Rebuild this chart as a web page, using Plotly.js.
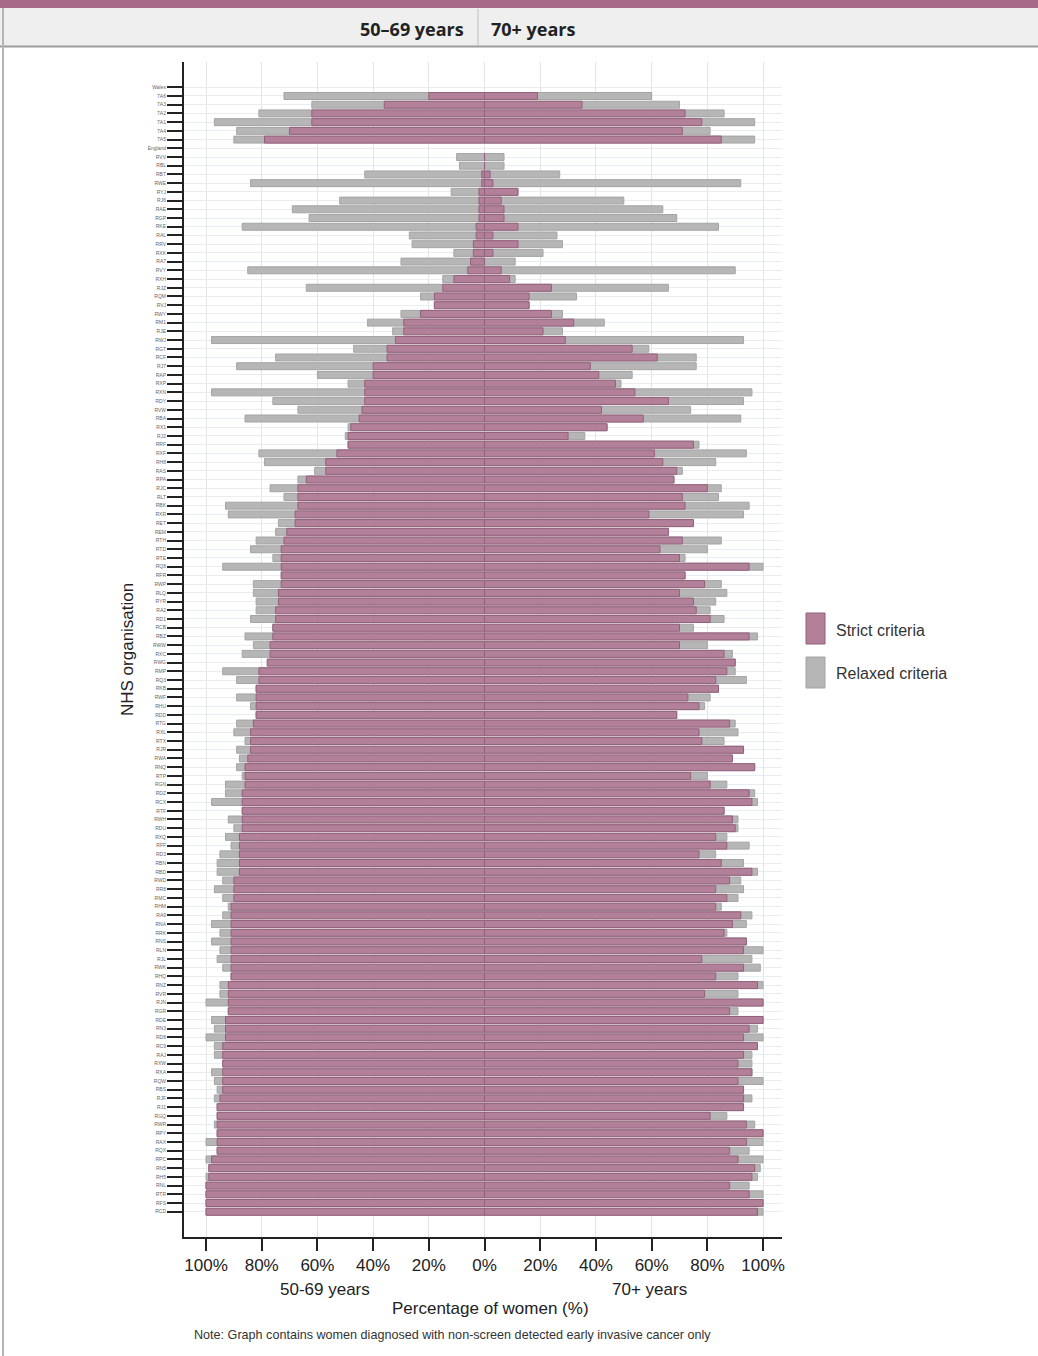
<!DOCTYPE html>
<html>
<head>
<meta charset="utf-8">
<script src="https://cdn.plot.ly/plotly-3.0.1.min.js"></script>
<style>
  html, body { margin: 0; padding: 0; background: #ffffff; }
  #chart { width: 1038px; height: 1356px; }
</style>
</head>
<body>
<div id="chart"></div>
<script>
// ---- Data (percent of women) ----
const organisations = ["Wales","7A6","7A3","7A2","7A1","7A4","7A5","England",
"RVV","RBL","RBT","RWE","RYJ","RJ6","RAE","RGP","RKE","RAL","RRV","RXK","RA7","RVY",
"RXH","RJZ","RQM","RVJ","RWY","RM1","RJE","RWJ","RGT","RCF","RJ7","RAP","RXP","RXN","RDY","RVW","RBA","RX1","RJ2","RRF","RXF","RH8",
"RAS","RPA","RJC","RLT","RBK","RXR","RET","REM","RTH","RTD","RTE","RQ8","RFR","RWP","RLQ","RYR","RA2","RD1","RCB","RBZ","RWW","RXC",
"RWG","RMP","RQ3","RKB","RWF","RHU","RDD","RTG","RXL","RTX","RJR","RWA","RNQ","RTP","RGN","RDZ","RCX","RTF","RWH","RDU","RXQ",
"RFF","RD3","RBN","RBD","RWD","RR8","RMC","RHM","RA9","RNA","RRK","RNS","RLN","RJL","RWK","RHQ","RNZ","RVR","RJN","RGR","RDE","RN3",
"RD8","RC9","RAJ","RXW","RXA","RQW","RBS","RJF","RJ1","RGQ","RWR","RPY","RAX","RQX","RPC","RN5","RH5","RNL","RTR","RFS","RCD"];

const strict5069 = [null,20,36,62,62,70,79,null,
0,0,1,1,2,2,2,2,3,3,4,4,5,6,
11,15,18,18,23,29,29,32,35,35,40,40,43,43,43,44,45,48,49,49,53,57,
57,64,67,67,67,68,68,71,72,73,73,73,73,73,74,74,75,75,76,76,77,77,
78,81,81,82,82,82,82,83,84,84,84,85,86,86,86,87,87,87,87,87,88,
88,88,88,88,90,90,90,91,91,91,91,91,91,91,91,91,92,92,92,92,93,93,
93,94,94,94,94,94,94,95,96,96,96,96,96,96,98,99,99,100,100,100,100];

const relaxed5069 = [null,72,62,81,97,89,90,null,
10,9,43,84,12,52,69,63,87,27,26,11,30,85,
15,64,23,18,30,42,33,98,47,75,89,60,49,98,76,67,86,49,50,49,81,79,
61,67,77,72,93,92,74,75,82,84,76,94,73,83,83,82,82,84,76,86,83,87,
78,94,89,82,89,84,82,89,90,86,89,88,89,87,93,93,98,87,92,90,93,
91,95,96,96,94,97,94,92,94,98,95,98,95,96,94,91,95,95,100,92,98,97,
100,97,97,94,98,97,96,97,96,96,97,96,100,96,100,99,100,100,100,100,100];

const strict70 = [null,19,35,72,78,71,85,null,
0,0,2,3,12,6,7,7,12,3,12,3,0,6,
9,24,16,16,24,32,21,29,53,62,38,41,47,54,66,42,57,44,30,75,61,64,
69,68,80,71,72,59,75,66,71,63,70,95,72,79,70,75,76,81,70,95,70,86,
90,87,83,84,73,77,69,88,77,78,93,89,97,74,81,95,96,86,89,90,83,
87,77,85,96,88,83,87,83,92,89,86,94,93,78,93,83,98,79,100,88,100,95,
93,98,93,91,96,91,93,93,93,81,94,100,94,88,91,97,96,88,95,100,98];

const relaxed70 = [null,60,70,86,97,81,97,null,
7,7,27,92,12,50,64,69,84,26,28,21,11,90,
11,66,33,16,28,43,28,93,59,76,76,53,49,96,93,74,92,44,36,77,94,83,
71,68,85,84,95,93,75,66,85,80,72,100,72,85,87,83,81,86,75,98,80,89,
90,90,94,84,81,79,69,90,91,86,93,89,97,80,87,97,98,86,91,91,87,
95,83,93,98,92,93,91,85,96,94,87,94,100,96,99,91,100,91,100,91,100,98,
100,98,96,96,96,100,93,96,93,87,97,100,100,95,100,99,98,95,100,100,100];

const xTickVals = [-100,-80,-60,-40,-20,0,20,40,60,80,100];
const xTickText = ["100%","80%","60%","40%","20%","0%","20%","40%","60%","80%","100%"];

// ---- Styling ----
const STRICT_FILL = "#b3809a";
const STRICT_LINE = "#93607c";
const RELAX_FILL = "#b6b6b6";
const RELAX_LINE = "#a4a4a4";
const FONT = "Liberation Sans, Arial, sans-serif";

const rows = organisations.map((_, i) => i);
const neg = arr => arr.map(v => (v === null ? null : -v));

function barTrace(x, fill, line, name) {
  return {
    type: "bar", orientation: "h", x: x, y: rows, name: name,
    width: 0.8, showlegend: false,
    marker: { color: fill, line: { color: line, width: 1 } },
    hoverinfo: "skip"
  };
}

const traces = [
  barTrace(neg(relaxed5069), RELAX_FILL, RELAX_LINE, "Relaxed criteria"),
  barTrace(relaxed70, RELAX_FILL, RELAX_LINE, "Relaxed criteria"),
  barTrace(neg(strict5069), STRICT_FILL, STRICT_LINE, "Strict criteria"),
  barTrace(strict70, STRICT_FILL, STRICT_LINE, "Strict criteria")
];

// plot area in pixels
const W = 1038, H = 1356;
const L = 184, R = 782, T = 62, B = 1237;
const px = x => (x - L) / (R - L);
const py = y => (B - y) / (B - T);

const layout = {
  width: W, height: H,
  margin: { l: L, r: W - R, t: T, b: H - B, pad: 0 },
  paper_bgcolor: "#ffffff",
  plot_bgcolor: "#ffffff",
  barmode: "overlay",
  showlegend: false,
  font: { family: FONT, color: "#222" },
  xaxis: {
    range: [-107.9, 106.8],
    tickvals: xTickVals, ticktext: xTickText,
    tickfont: { size: 17, color: "#222", family: FONT },
    ticks: "outside", ticklen: 12, tickwidth: 2, tickcolor: "#222",
    showline: true, linecolor: "#222", linewidth: 2,
    showgrid: true, gridcolor: "#e4e4e4", gridwidth: 1,
    zeroline: false, fixedrange: true
  },
  yaxis: {
    range: [131.9, -2.9],
    tickvals: rows, ticktext: organisations,
    tickfont: { size: 5, color: "#666", family: FONT },
    ticks: "outside", ticklen: 15, tickwidth: 2, tickcolor: "#222",
    showline: true, linecolor: "#222", linewidth: 2,
    showgrid: true, gridcolor: "#e6eef4", gridwidth: 1,
    zeroline: false, fixedrange: true
  },
  shapes: [
    // header purple band
    { type: "rect", xref: "paper", yref: "paper", x0: px(0), x1: px(W), y0: py(8), y1: py(0),
      fillcolor: "#a66b88", line: { width: 0 } },
    // header gray band
    { type: "rect", xref: "paper", yref: "paper", x0: px(0), x1: px(W), y0: py(46), y1: py(8),
      fillcolor: "#efefef", line: { width: 0 } },
    // header bottom border
    { type: "line", xref: "paper", yref: "paper", x0: px(0), x1: px(W), y0: py(46.5), y1: py(46.5),
      line: { color: "#9c9c9c", width: 2 } },
    // header divider
    { type: "line", xref: "paper", yref: "paper", x0: px(478), x1: px(478), y0: py(45), y1: py(9),
      line: { color: "#bdbdbd", width: 1 } },
    // left frame
    { type: "line", xref: "paper", yref: "paper", x0: px(3), x1: px(3), y0: py(H), y1: py(8),
      line: { color: "#b5b5b5", width: 2 } },
    // legend swatches
    { type: "rect", xref: "paper", yref: "paper", x0: px(806), x1: px(825), y0: py(644), y1: py(613),
      fillcolor: STRICT_FILL, line: { color: STRICT_LINE, width: 1 } },
    { type: "rect", xref: "paper", yref: "paper", x0: px(806), x1: px(825), y0: py(688), y1: py(657),
      fillcolor: RELAX_FILL, line: { color: RELAX_LINE, width: 1 } }
  ],
  annotations: [
    { xref: "paper", yref: "paper", x: px(466), y: py(29), xanchor: "right", yanchor: "middle",
      text: "<b>50–69 years</b>", showarrow: false,
      font: { family: "Open Sans, sans-serif", size: 18, color: "#222" } },
    { xref: "paper", yref: "paper", x: px(489), y: py(29), xanchor: "left", yanchor: "middle",
      text: "<b>70+ years</b>", showarrow: false,
      font: { family: "Open Sans, sans-serif", size: 18, color: "#222" } },
    { xref: "paper", yref: "paper", x: px(127), y: py(650), xanchor: "center", yanchor: "middle",
      text: "NHS organisation", textangle: -90, showarrow: false,
      font: { family: FONT, size: 17, color: "#222" } },
    { xref: "paper", yref: "paper", x: px(325), y: py(1289), xanchor: "center", yanchor: "middle",
      text: "50-69 years", showarrow: false, font: { family: FONT, size: 17, color: "#222" } },
    { xref: "paper", yref: "paper", x: px(649), y: py(1289), xanchor: "center", yanchor: "middle",
      text: "70+ years", showarrow: false, font: { family: FONT, size: 17, color: "#222" } },
    { xref: "paper", yref: "paper", x: px(490), y: py(1308), xanchor: "center", yanchor: "middle",
      text: "Percentage of women (%)", showarrow: false, font: { family: FONT, size: 17, color: "#222" } },
    { xref: "paper", yref: "paper", x: px(192), y: py(1335), xanchor: "left", yanchor: "middle",
      text: "Note: Graph contains women diagnosed with non-screen detected early invasive cancer only",
      showarrow: false, font: { family: FONT, size: 12.6, color: "#333" } },
    { xref: "paper", yref: "paper", x: px(834), y: py(630), xanchor: "left", yanchor: "middle",
      text: "Strict criteria", showarrow: false, font: { family: FONT, size: 16, color: "#333" } },
    { xref: "paper", yref: "paper", x: px(834), y: py(673), xanchor: "left", yanchor: "middle",
      text: "Relaxed criteria", showarrow: false, font: { family: FONT, size: 16, color: "#333" } }
  ]
};

Plotly.newPlot("chart", traces, layout, { displayModeBar: false, staticPlot: true });
</script>
</body>
</html>
